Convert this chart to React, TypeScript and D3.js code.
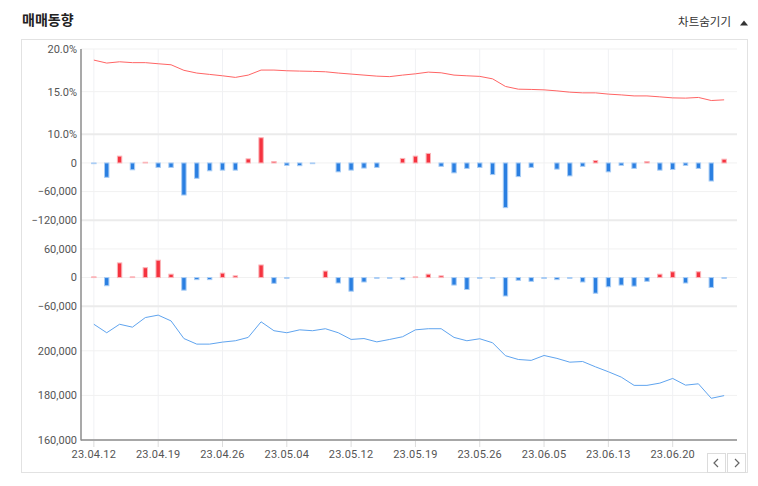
import React from "react";
import * as d3 from "d3";

const dates = [
  "23.04.12","23.04.13","23.04.14","23.04.17","23.04.18","23.04.19","23.04.20","23.04.21","23.04.24","23.04.25",
  "23.04.26","23.04.27","23.04.28","23.05.02","23.05.03","23.05.04","23.05.08","23.05.09","23.05.10","23.05.11",
  "23.05.12","23.05.15","23.05.16","23.05.17","23.05.18","23.05.19","23.05.22","23.05.23","23.05.24","23.05.25",
  "23.05.26","23.05.30","23.05.31","23.06.01","23.06.02","23.06.05","23.06.07","23.06.08","23.06.09","23.06.12",
  "23.06.13","23.06.14","23.06.15","23.06.16","23.06.19","23.06.20","23.06.21","23.06.22","23.06.23","23.06.26",
];

// 외국인 보유율 (%)
const foreignRatio = [
  18.70, 18.35, 18.50, 18.40, 18.40, 18.27, 18.15, 17.50, 17.18, 17.02,
  16.86, 16.67, 16.94, 17.53, 17.53, 17.45, 17.41, 17.38, 17.33, 17.18,
  17.06, 16.94, 16.82, 16.76, 16.94, 17.09, 17.29, 17.21, 16.94, 16.86,
  16.79, 16.50, 15.61, 15.29, 15.26, 15.21, 15.09, 14.94, 14.86, 14.86,
  14.71, 14.62, 14.50, 14.50, 14.39, 14.27, 14.24, 14.32, 13.96, 14.04,
];

// 외국인 순매매
const foreignNet = [
  -1500, -30000, 14300, -14300, 1500, -9300, -9300, -67100, -32100, -16400,
  -15000, -15000, 8600, 52800, 2900, -5000, -5700, -1500, 0, -18600,
  -15000, -10700, -9300, 0, 9500, 14300, 20000, -7100, -20700, -11400,
  -9300, -24300, -93500, -28600, -9300, 0, -12900, -27100, -7100, 5000,
  -18600, -5000, -11400, 2900, -15000, -13600, -5000, -11400, -37800, 7900,
];

// 기관 순매매
const institutionNet = [
  1500, -17100, 30700, 1500, 20700, 36400, 7100, -26400, -4300, -4300,
  9300, 3600, 0, 26400, -12100, -1500, 0, 0, 13600, -11400,
  -28600, -9300, -1500, -1500, -4300, 1500, 7100, 3600, -15700, -25000,
  -1500, -1500, -38600, -5700, -7900, -2000, -4300, -1500, -9300, -32800,
  -19300, -15700, -17900, -7900, 7100, 12100, -11400, 12100, -20700, -1500,
];

// 종가
const closePrice = [
  211900, 208100, 211900, 210600, 214900, 216000, 213400, 205500, 203000, 203000,
  203900, 204500, 206000, 213000, 209000, 208100, 209400, 209000, 209900, 208100,
  205100, 205500, 204000, 205100, 206300, 209400, 209900, 209900, 206000, 204500,
  205400, 203600, 197800, 196100, 195700, 197900, 196600, 194900, 195200, 192800,
  190600, 188200, 184500, 184500, 185500, 187600, 184600, 185200, 178700, 179900,
];

const ratioTicks = [20, 15, 10];
const foreignTicks = [0, -60000, -120000];
const instTicks = [60000, 0, -60000];
const priceTicks = [200000, 180000, 160000];
const xTickIdx = [0, 5, 10, 15, 20, 25, 30, 35, 40, 45];

const W = 758, H = 486;
const L = 81, R = 737;
const NUMFONT = "Roboto, 'Noto Sans', sans-serif";
const KRFONT = "'Noto Sans CJK KR', 'Noto Sans', sans-serif";

export default function App() {
  const x = d3.scaleLinear().domain([-1, dates.length]).range([L, R]);
  const y1 = d3.scaleLinear().domain([10, 20]).range([134.3, 49]);
  const y2 = d3.scaleLinear().domain([-120000, 60000]).range([220.3, 134.3]);
  const y3 = d3.scaleLinear().domain([-60000, 120000]).range([306.2, 220.3]);
  const y4 = d3.scaleLinear().domain([160000, 220000]).range([440, 306.2]);

  const fmtPct = (v: number) => d3.format(".1f")(v) + "%";
  const fmtNum = d3.format(",");

  const line1 = d3.line<number>().x((_, i) => x(i)).y((d) => y1(d));
  const line4 = d3.line<number>().x((_, i) => x(i)).y((d) => y4(d));

  const RED = "#f5333f";
  const RED_L = "#fbb5b9";
  const BLUE = "#2a7fe1";
  const BLUE_L = "#a9cdf5";
  const bw = 4.4;

  const bars = (vals: number[], y: d3.ScaleLinear<number, number>, key: string) =>
    vals.map((v, i) => {
      if (v === 0) return null;
      const y0 = y(0);
      const yv = y(v);
      const top = Math.min(y0, yv);
      const h = Math.max(Math.abs(yv - y0), 0.4);
      const pos = v > 0;
      return (
        <rect
          key={key + i}
          x={x(i) - bw / 2}
          y={top}
          width={bw}
          height={h}
          fill={pos ? RED : BLUE}
          stroke={pos ? RED_L : BLUE_L}
          strokeWidth={1}
        />
      );
    });

  const hGrid: { y: number; label: string; sep?: boolean }[] = [
    ...ratioTicks.map((t) => ({ y: y1(t), label: fmtPct(t), sep: t === 10 })),
    ...foreignTicks.map((t) => ({ y: y2(t), label: fmtNum(t), sep: t === -120000 })),
    ...instTicks.map((t) => ({ y: y3(t), label: fmtNum(t), sep: t === -60000 })),
    ...priceTicks.map((t) => ({ y: y4(t), label: fmtNum(t) })),
  ];

  return (
    <svg
      width={W}
      height={H}
      style={{ position: "absolute", left: 0, top: 0, background: "#fff" }}
    >
      <text x={22} y={25} fontFamily={KRFONT} fontSize={14} fontWeight={700} fill="#222">
        매매동향
      </text>
      <text x={731} y={26} textAnchor="end" fontFamily={KRFONT} fontSize={11.5} fill="#333">
        차트숨기기
      </text>
      <path d="M740,25.5 L748,25.5 L744,20.5 Z" fill="#333" />

      <rect x={21.5} y={39.5} width={726} height={433} fill="#fff" stroke="#e2e2e2" />

      {/* vertical grid */}
      {xTickIdx.map((i) => (
        <line key={"vg" + i} x1={x(i)} x2={x(i)} y1={49} y2={440} stroke="#f0f1f4" strokeWidth={1} />
      ))}
      {/* horizontal grid */}
      {hGrid.map((g, k) => (
        <line
          key={"hg" + k}
          x1={L}
          x2={R}
          y1={g.y}
          y2={g.y}
          stroke={g.sep ? "#ebebeb" : "#f1f1f1"}
          strokeWidth={g.sep ? 2 : 1}
        />
      ))}

      {/* axes */}
      <line x1={L} x2={L} y1={49} y2={440.5} stroke="#8c8c8c" strokeWidth={1.5} />
      <line x1={L} x2={R} y1={440} y2={440} stroke="#8c8c8c" strokeWidth={1.5} />
      {xTickIdx.map((i) => (
        <line key={"tk" + i} x1={x(i)} x2={x(i)} y1={441} y2={447} stroke="#dcdcdc" />
      ))}

      {/* labels */}
      {hGrid.map((g, k) => (
        <text
          key={"yl" + k}
          x={77}
          y={g.y}
          dy="0.35em"
          textAnchor="end"
          fontFamily={NUMFONT}
          fontSize={11}
          fill="#555"
        >
          {g.label}
        </text>
      ))}
      {xTickIdx.map((i) => (
        <text
          key={"xl" + i}
          x={x(i)}
          y={458}
          textAnchor="middle"
          fontFamily={NUMFONT}
          fontSize={11}
          fill="#555"
          letterSpacing={0.2}
        >
          {dates[i]}
        </text>
      ))}

      {/* series */}
      <path d={line1(foreignRatio) || ""} fill="none" stroke="#ff6464" strokeWidth={1} />
      {bars(foreignNet, y2, "f")}
      {bars(institutionNet, y3, "n")}
      <path d={line4(closePrice) || ""} fill="none" stroke="#5fa4ef" strokeWidth={1} />

      {/* nav buttons */}
      <rect x={707.5} y={453.5} width={18} height={19} fill="#fff" stroke="#dcdcdc" />
      <rect x={727.5} y={453.5} width={18} height={19} fill="#fff" stroke="#dcdcdc" />
      <path d="M718,459 L714,463 L718,467" fill="none" stroke="#666" strokeWidth={1.2} />
      <path d="M735,459 L739,463 L735,467" fill="none" stroke="#666" strokeWidth={1.2} />
    </svg>
  );
}
